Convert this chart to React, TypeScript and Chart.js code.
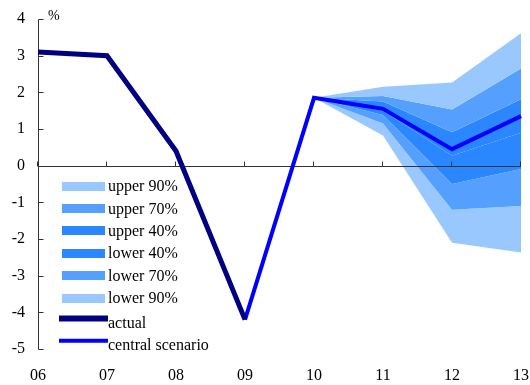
import React, { useEffect, useRef } from "react";
import { Chart, registerables } from "chart.js";
Chart.register(...registerables);

const years = ["06", "07", "08", "09", "10", "11", "12", "13"];
const actual = [3.1, 3.0, 0.4, -4.2, null, null, null, null];
const central = [null, null, null, -4.2, 1.85, 1.55, 0.45, 1.35];
const upper90 = [null, null, null, null, 1.85, 2.15, 2.27, 3.61];
const upper70 = [null, null, null, null, 1.85, 1.9, 1.53, 2.65];
const upper40 = [null, null, null, null, 1.85, 1.75, 0.91, 1.81];
const midBand = [null, null, null, null, 1.85, 1.5, 0.27, 0.9];
const lower40 = [null, null, null, null, 1.85, 1.38, -0.5, -0.09];
const lower70 = [null, null, null, null, 1.85, 1.15, -1.2, -1.1];
const lower90 = [null, null, null, null, 1.85, 0.82, -2.1, -2.37];
const yTicks = [4, 3, 2, 1, 0, -1, -2, -3, -4, -5];
const bandLabels = ["upper 90%", "upper 70%", "upper 40%", "lower 40%", "lower 70%", "lower 90%"];
const lineLabels = ["actual", "central scenario"];

const LIGHT = "#99c8ff";
const MED = "#55a0ff";
const DARK = "#2b87ff";
const NAVY = "#000080";
const BLUE = "#0000ff";
const SERIF = "'Liberation Serif', 'Times New Roman', serif";

function drawAxes(chart: any) {
  const { ctx, chartArea: a, scales } = chart;
  const x = scales.x;
  const y = scales.y;
  ctx.save();
  ctx.strokeStyle = "#333";
  ctx.lineWidth = 1;
  ctx.beginPath();
  const lx = Math.round(a.left) + 0.5;
  ctx.moveTo(lx, Math.round(y.getPixelForValue(yTicks[0])) + 0.5);
  ctx.lineTo(lx, Math.round(y.getPixelForValue(yTicks[yTicks.length - 1])) + 0.5);
  yTicks.forEach((v) => {
    const py = Math.round(y.getPixelForValue(v)) + 0.5;
    ctx.moveTo(lx, py);
    ctx.lineTo(lx + 5, py);
  });
  const y0 = Math.round(y.getPixelForValue(0)) + 0.5;
  ctx.moveTo(a.left, y0);
  ctx.lineTo(a.right, y0);
  years.forEach((_, i) => {
    const px = Math.round(x.getPixelForValue(i)) - 0.5;
    ctx.moveTo(px, y0);
    ctx.lineTo(px, y0 - 5);
  });
  ctx.stroke();
  ctx.fillStyle = "#000";
  ctx.font = `14px ${SERIF}`;
  ctx.textBaseline = "middle";
  ctx.textAlign = "left";
  ctx.fillText("%", a.left + 10, a.top - 3);
  ctx.restore();
}

const axisPlugin = {
  id: "customAxes",
  beforeDatasetDraw(chart: any, args: any) {
    if (args.index === 1) drawAxes(chart);
  },
};

const legendPlugin = {
  id: "customLegend",
  afterDraw(chart: any) {
    const { ctx, chartArea: a } = chart;
    ctx.save();
    ctx.font = `16px ${SERIF}`;
    ctx.textBaseline = "middle";
    ctx.textAlign = "left";
    const boxL = a.left + 24;
    const textX = a.left + 70;
    let yy = a.top + 167;
    const step = 22.4;
    const ds = chart.data.datasets;
    const bands = ds.filter((d: any) => d.legendKind === "band");
    const lines = ds.filter((d: any) => d.legendKind === "line");
    bands.forEach((d: any) => {
      ctx.fillStyle = d.backgroundColor;
      ctx.fillRect(boxL, Math.round(yy - 4.5), 43, 9);
      ctx.fillStyle = "#000";
      ctx.fillText(d.label, textX, yy + 1);
      yy += step;
    });
    lines.forEach((d: any) => {
      ctx.strokeStyle = d.borderColor;
      ctx.lineWidth = d.legendWidth;
      ctx.beginPath();
      ctx.moveTo(a.left + 21, yy - 2);
      ctx.lineTo(a.left + 70, yy - 2);
      ctx.stroke();
      ctx.fillStyle = "#000";
      ctx.fillText(d.label, textX, yy + 3);
      yy += step;
    });
    ctx.restore();
  },
};

export default function App() {
  const ref = useRef<HTMLCanvasElement | null>(null);
  useEffect(() => {
    if (!ref.current) return;
    const bandData = [upper90, upper70, upper40, midBand, lower40, lower70, lower90];
    const bandColors = [LIGHT, MED, DARK, DARK, MED, LIGHT, LIGHT];
    const fan = bandData.map((d, i) => ({
      label: i < bandLabels.length ? bandLabels[i] : "",
      legendKind: i < bandLabels.length ? "band" : "none",
      data: d,
      borderWidth: 0,
      borderColor: "rgba(0,0,0,0)",
      backgroundColor: bandColors[i],
      pointRadius: 0,
      fill: i < bandLabels.length ? "+1" : false,
      tension: 0,
    }));
    const chart = new Chart(ref.current, {
      type: "line",
      data: {
        labels: years,
        datasets: [
          {
            label: lineLabels[0],
            legendKind: "line",
            legendWidth: 6,
            data: actual,
            borderColor: NAVY,
            backgroundColor: NAVY,
            borderWidth: 5,
            pointRadius: 0,
            fill: false,
            tension: 0,
          } as any,
          {
            label: lineLabels[1],
            legendKind: "line",
            legendWidth: 4,
            data: central,
            borderColor: BLUE,
            backgroundColor: BLUE,
            borderWidth: 4,
            pointRadius: 0,
            fill: false,
            tension: 0,
          } as any,
          ...(fan as any[]),
        ],
      },
      options: {
        responsive: false,
        animation: false,
        layout: { padding: { top: 19, right: 9, left: 0, bottom: 0 } },
        plugins: {
          legend: { display: false },
          tooltip: { enabled: false },
          title: { display: false },
        },
        scales: {
          x: {
            type: "category",
            offset: false,
            grid: { display: false, drawTicks: false },
            border: { display: false },
            ticks: {
              color: "#000",
              font: { family: SERIF, size: 16 },
              padding: 17,
              maxRotation: 0,
              autoSkip: false,
            },
            afterFit: (s: any) => {
              s.height = 36;
              s.paddingLeft = 0;
              s.paddingRight = 0;
            },
          },
          y: {
            min: -5,
            max: 4,
            grid: { display: false, drawTicks: false },
            border: { display: false },
            afterBuildTicks: (s: any) => {
              s.ticks = yTicks.map((v) => ({ value: v }));
            },
            ticks: {
              color: "#000",
              font: { family: SERIF, size: 16 },
              padding: 13,
            },
            afterFit: (s: any) => {
              s.width = 38;
              s.paddingTop = 0;
              s.paddingBottom = 0;
            },
          },
        },
      },
      plugins: [axisPlugin, legendPlugin],
    });
    return () => chart.destroy();
  }, []);
  return (
    <div style={{ position: "fixed", left: 0, top: 0, width: 530, height: 385, background: "#fff" }}>
      <canvas ref={ref} width={530} height={385} />
    </div>
  );
}
